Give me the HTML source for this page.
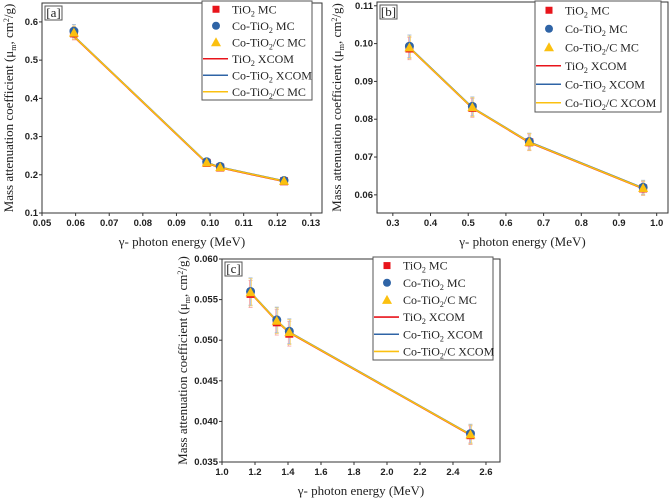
<!DOCTYPE html>
<html><head><meta charset="utf-8"><style>
body{margin:0;background:#fff;width:670px;height:500px;overflow:hidden}
svg{display:block}
.tk{font:bold 9.5px "Liberation Sans",sans-serif;fill:#222}
.ti{font:13px "Liberation Serif",serif;fill:#222}
.lg{font:12px "Liberation Serif",serif;fill:#222}
</style></head><body>
<svg id="s" width="670" height="500"></svg>
<script>
const energyA=[0.0595,0.099,0.103,0.122];
const tio2A=[0.570,0.231,0.219,0.183];
const coA=[0.576,0.234,0.222,0.185];
const cocA=[0.572,0.232,0.220,0.184];
const xcomA=[0.563,0.232,0.220,0.184];
const energyB=[0.344,0.511,0.662,0.964];
const tio2B=[0.0987,0.0830,0.0739,0.0617];
const coB=[0.0993,0.0834,0.0741,0.0620];
const cocB=[0.0990,0.0832,0.0740,0.0618];
const xcomB=[0.0990,0.0831,0.0740,0.0618];
const energyC=[1.173,1.332,1.408,2.506];
const tio2C=[0.0557,0.0522,0.0508,0.0383];
const coC=[0.0560,0.0525,0.0511,0.0385];
const cocC=[0.0559,0.0524,0.0510,0.0384];
const xcomC=[0.0559,0.0524,0.0510,0.0384];
const xTicksA=[0.05,0.06,0.07,0.08,0.09,0.10,0.11,0.12,0.13];
const yTicksA=[0.1,0.2,0.3,0.4,0.5,0.6];
const xTicksB=[0.3,0.4,0.5,0.6,0.7,0.8,0.9,1.0];
const yTicksB=[0.06,0.07,0.08,0.09,0.10,0.11];
const xTicksC=[1.0,1.2,1.4,1.6,1.8,2.0,2.2,2.4,2.6];
const yTicksC=[0.035,0.040,0.045,0.050,0.055,0.060];
const legendLabels=["TiO₂ MC","Co-TiO₂ MC","Co-TiO₂/C MC","TiO₂ XCOM","Co-TiO₂ XCOM","Co-TiO₂/C XCOM"];
const svg=document.getElementById('s');
const NS='http://www.w3.org/2000/svg';
function mk(t,a,p){const e=document.createElementNS(NS,t);for(const k in a)e.setAttribute(k,a[k]);(p||svg).appendChild(e);return e;}
function panel(cfg){
 const g=mk('g',{});
 
 
 const X=v=>cfg.x0+(v-cfg.xmin)/(cfg.xmax-cfg.xmin)*(cfg.x1-cfg.x0);
 const Y=v=>cfg.y1-(v-cfg.ymin)/(cfg.ymax-cfg.ymin)*(cfg.y1-cfg.y0);
 const fr=mk('rect',{x:cfg.x0,y:cfg.y0,width:cfg.x1-cfg.x0,height:cfg.y1-cfg.y0,fill:'none',stroke:'#333','stroke-width':1},g);
 
 cfg.xt.forEach(v=>{const x=X(v);mk('line',{x1:x,x2:x,y1:cfg.y1,y2:cfg.y1+3,stroke:'#333'},g);
  const t=mk('text',{x:x,y:cfg.y1+13,'text-anchor':'middle',class:'tk'},g);t.textContent=v.toFixed(cfg.xd);
  });
 cfg.yt.forEach(v=>{const y=Y(v);mk('line',{x1:cfg.x0-3,x2:cfg.x0,y1:y,y2:y,stroke:'#333'},g);
  const t=mk('text',{x:cfg.x0-4,y:y+3,'text-anchor':'end',class:'tk'},g);t.textContent=v.toFixed(cfg.yd);
  });
 const xt=mk('text',{x:(cfg.x0+cfg.x1)/2,y:cfg.y1+33,'text-anchor':'middle',class:'ti'},g);
 xt.textContent='γ- photon energy (MeV)';
 
 const yc=(cfg.y0+cfg.y1)/2, yx=cfg.yx;
 const yt=mk('text',{x:yx,y:yc,'text-anchor':'middle',class:'ti',transform:`rotate(-90 ${yx} ${yc})`},g);
 yt.innerHTML='Mass attenuation coefficient (μ<tspan font-size="8" dy="3">m</tspan><tspan dy="-3">, cm</tspan><tspan font-size="8" dy="-4">2</tspan><tspan dy="4">/g)</tspan>';
 
 mk('rect',{x:cfg.x0+3,y:cfg.y0+3,width:17,height:14,fill:'#fff',stroke:'#555'},g);
 const lt=mk('text',{x:cfg.x0+11.5,y:cfg.y0+14,'text-anchor':'middle',class:'ti','font-size':'12'},g);lt.textContent='['+cfg.id+']';
 
 const E=cfg.e;
 E.forEach((e,i)=>{[cfg.t,cfg.c,cfg.cc].forEach((s,j)=>{const er=cfg.err*s[i];const col=['#f4a0a0','#a0b8d8','#f5d070'][j];
   mk('line',{x1:X(e)+j-1,x2:X(e)+j-1,y1:Y(s[i]-er),y2:Y(s[i]+er),stroke:col,'stroke-width':0.8},g);
   mk('line',{x1:X(e)-2,x2:X(e)+2,y1:Y(s[i]+er),y2:Y(s[i]+er),stroke:col,'stroke-width':0.8},g);
   mk('line',{x1:X(e)-2,x2:X(e)+2,y1:Y(s[i]-er),y2:Y(s[i]-er),stroke:col,'stroke-width':0.8},g);});});
 [['#e8141b',1],['#2f64a6',0],['#fbc010',0.5]].forEach((c,k)=>{
  const p=mk('polyline',{points:E.map((e,i)=>X(e)+','+(Y(cfg.xc[i])+c[1]*0.6)).join(' '),fill:'none',stroke:c[0],'stroke-width':1.6},g);
  });
 E.forEach((e,i)=>{
  const r=mk('rect',{x:X(e)-4,y:Y(cfg.t[i])-4,width:8,height:8,fill:'#e8141b'},g);
  
  const c=mk('circle',{cx:X(e),cy:Y(cfg.c[i]),r:4.5,fill:'#2f64a6'},g);
  
  const x=X(e),y=Y(cfg.cc[i]);
  const tr=mk('polygon',{points:`${x},${y-5} ${x-5},${y+4} ${x+5},${y+4}`,fill:'#fbc010'},g);
  
 });
 const L=cfg.leg;
 const lr=mk('rect',{x:L[0],y:L[1],width:L[2],height:L[3],fill:'#fff',stroke:'#555'},g);
 
 const dy=L[3]/6;
 legendLabels.forEach((lab,i)=>{
  const cy=L[1]+dy*(i+0.5), cx=L[0]+14;
  if(i==0)mk('rect',{x:cx-3.5,y:cy-3.5,width:7,height:7,fill:'#e8141b'},g);
  else if(i==1)mk('circle',{cx:cx,cy:cy,r:4,fill:'#2f64a6'},g);
  else if(i==2)mk('polygon',{points:`${cx},${cy-5} ${cx-5},${cy+4} ${cx+5},${cy+4}`,fill:'#fbc010'},g);
  else mk('line',{x1:L[0]+1,x2:L[0]+26,y1:cy,y2:cy,stroke:['#e8141b','#2f64a6','#fbc010'][i-3],'stroke-width':1.6},g);
  let txt=lab; if(cfg.id=='a'&&i==5)txt='Co-TiO₂/C MC';
  const parts=txt.split('₂');
  const t=mk('text',{x:L[0]+30,y:cy+4,class:'lg'},g);
  t.innerHTML=parts[0]+'<tspan font-size="8" dy="3">2</tspan><tspan dy="-3">'+parts[1]+'</tspan>';
  
 });
}
panel({id:'a',x0:42,x1:322,y0:3,y1:213,xmin:0.05,xmax:0.1333,ymin:0.1,ymax:0.6495,xt:xTicksA,yt:yTicksA,xd:2,yd:1,yx:13,
 e:energyA,t:tio2A,c:coA,cc:cocA,xc:xcomA,err:0.03,leg:[202,1,110,99]});
panel({id:'b',x0:377,x1:668,y0:2,y1:213,xmin:0.258,xmax:1.03,ymin:0.0552,ymax:0.1110,xt:xTicksB,yt:yTicksB,xd:1,yd:2,yx:341,
 e:energyB,t:tio2B,c:coB,cc:cocB,xc:xcomB,err:0.03,leg:[535,1,126,111]});
panel({id:'c',x0:222,x1:500,y0:259,y1:462,xmin:1.0,xmax:2.685,ymin:0.035,ymax:0.060,xt:xTicksC,yt:yTicksC,xd:1,yd:3,yx:187,
 e:energyC,t:tio2C,c:coC,cc:cocC,xc:xcomC,err:0.03,leg:[373,257,120,103]});
</script>
</body></html>
